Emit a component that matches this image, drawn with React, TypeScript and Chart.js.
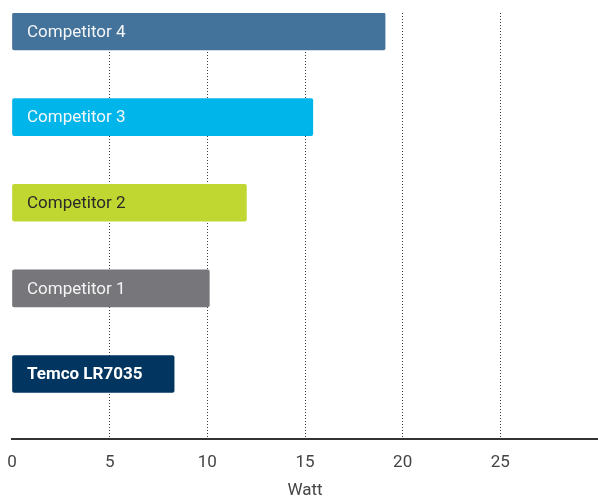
import React, { useEffect, useRef } from "react";
import { Chart, registerables } from "chart.js";

Chart.register(...registerables);

const categories = ["Competitor 4", "Competitor 3", "Competitor 2", "Competitor 1", "Temco LR7035"];
const values = [19.1, 15.4, 12.0, 10.1, 8.3];
const barColors = ["#43729a", "#00b5e9", "#bfd730", "#77777b", "#023660"];
const labelColors = ["#f4f6f8", "#f4f8fa", "#2a2a2a", "#f4f4f4", "#ffffff"];
const labelWeights = ["normal", "normal", "normal", "normal", "bold"];
const xMin = 0;
const xMax = 30;
const xStep = 5;
const axisTitle = "Watt";

const FONT = "Roboto, 'Noto Sans', sans-serif";

const barLabelPlugin = {
  id: "barLabels",
  afterDatasetsDraw(chart: any) {
    const { ctx, chartArea } = chart;
    const meta = chart.getDatasetMeta(0);
    ctx.save();
    ctx.textBaseline = "middle";
    ctx.textAlign = "left";
    meta.data.forEach((bar: any, i: number) => {
      ctx.font = `${labelWeights[i]} 17px ${FONT}`;
      ctx.fillStyle = labelColors[i];
      ctx.fillText(categories[i], chartArea.left + 15, bar.y + 1);
    });
    ctx.restore();
  },
};

export default function App() {
  const canvasRef = useRef<HTMLCanvasElement | null>(null);

  useEffect(() => {
    if (!canvasRef.current) return;
    const chart = new Chart(canvasRef.current, {
      type: "bar",
      data: {
        labels: categories,
        datasets: [
          {
            data: values,
            backgroundColor: barColors,
            borderWidth: 0,
            borderRadius: 2,
            borderSkipped: false,
            barThickness: 37,
          },
        ],
      },
      options: {
        indexAxis: "y",
        animation: false,
        responsive: false,
        devicePixelRatio: 1,
        layout: { padding: { left: 12, top: 13, right: 0, bottom: 0 } },
        plugins: {
          legend: { display: false },
          tooltip: { enabled: false },
          title: { display: false },
        },
        scales: {
          y: {
            type: "category",
            display: false,
            offset: true,
            afterBuildTicks: (scale: any) => {
              scale._startValue = -0.216;
              scale._valueRange = 4.975;
            },
          },
          x: {
            type: "linear",
            min: xMin,
            max: xMax,
            afterFit: (scale: any) => {
              scale.height = 60;
              scale.paddingLeft = 0;
              scale.paddingRight = 0;
            },
            border: { display: true, color: "#333333", width: 2, dash: [1, 2] },
            grid: {
              drawTicks: false,
              lineWidth: 1,
              color: (c: any) =>
                c.tick && (c.tick.value === xMin || c.tick.value === xMax) ? "rgba(0,0,0,0)" : "#3a3a3a",
            },
            ticks: {
              stepSize: xStep,
              padding: 15,
              color: "#444444",
              font: { family: FONT, size: 17, lineHeight: 1 },
              callback: (v: any) => (v === xMax ? "" : String(v)),
              maxRotation: 0,
            },
            title: {
              display: true,
              text: axisTitle,
              color: "#444444",
              font: { family: FONT, size: 17, lineHeight: 1 },
              padding: { top: 13, bottom: 0 },
            },
          },
        },
      },
      plugins: [barLabelPlugin],
    } as any);
    return () => chart.destroy();
  }, []);

  return (
    <div style={{ position: "absolute", left: 0, top: 0, width: 598, height: 499, background: "#fff" }}>
      <canvas ref={canvasRef} width={598} height={499} />
    </div>
  );
}
